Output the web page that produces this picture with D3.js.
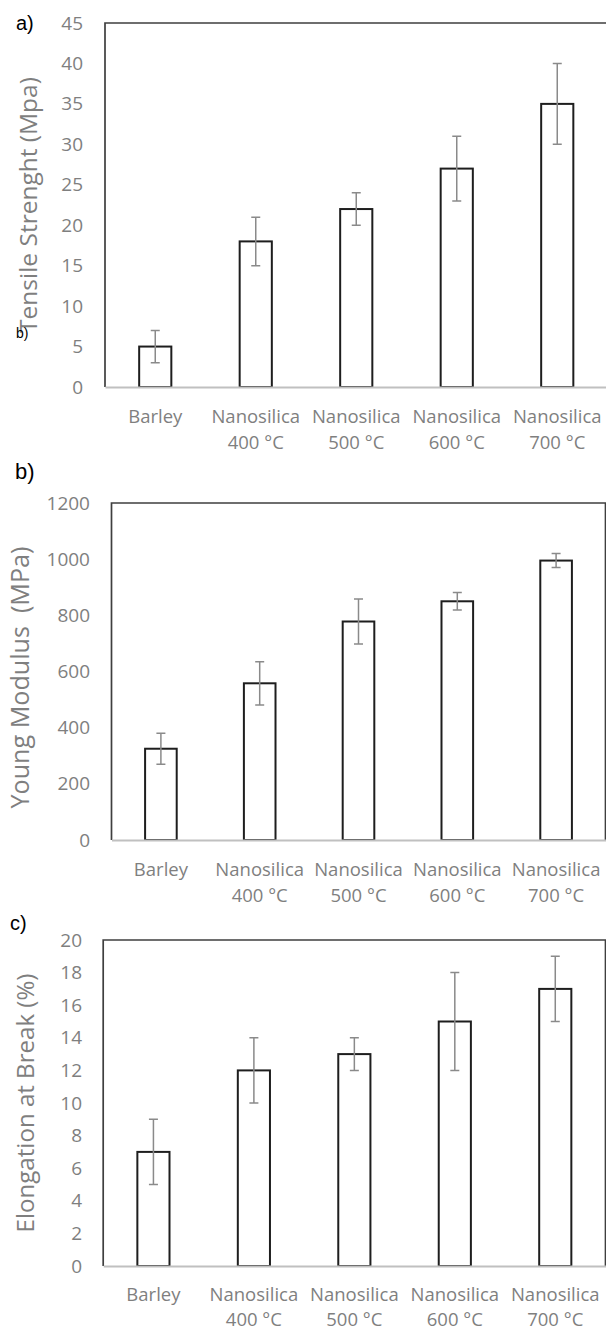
<!DOCTYPE html>
<html><head><meta charset="utf-8">
<script src="https://cdn.jsdelivr.net/npm/d3@7"></script>
<style>body{margin:0;background:#fff}svg{display:block}</style>
</head><body>
<script>
const categories = ["Barley", "Nanosilica\n400 °C", "Nanosilica\n500 °C", "Nanosilica\n600 °C", "Nanosilica\n700 °C"];

const tensileValues = [5, 18, 22, 27, 35];
const tensileErrors = [2, 3, 2, 4, 5];
const tensileTicks = [0, 5, 10, 15, 20, 25, 30, 35, 40, 45];

const youngValues = [325, 558, 778, 850, 995];
const youngErrors = [55, 77, 80, 31, 25];
const youngTicks = [0, 200, 400, 600, 800, 1000, 1200];

const elongationValues = [7, 12, 13, 15, 17];
const elongationErrors = [2, 2, 1, 3, 2];
const elongationTicks = [0, 2, 4, 6, 8, 10, 12, 14, 16, 18, 20];

const W = 606, H = 1331;
const GRAY = "#7f7f7f";
const FONT = "'Open Sans', 'Noto Sans', sans-serif";

const svg = d3.select("body").append("svg").attr("width", W).attr("height", H);

function panel(o) {
  const g = svg.append("g");
  const x = d3.scaleBand().domain(categories).range([o.left, o.right])
    .paddingInner(0.68).paddingOuter(0.34);
  const y = d3.scaleLinear().domain([0, o.max]).range([o.bottom, o.top]);

  // frame (top, left, right)
  g.append("path")
    .attr("d", `M${o.left},${o.bottom}V${o.top}H${o.right}V${o.bottom}`)
    .attr("fill", "none").attr("stroke", "#3f3f3f").attr("stroke-width", 1.7);

  // bars
  g.selectAll("rect.bar").data(o.values).enter().append("rect")
    .attr("class", "bar")
    .attr("x", (d, i) => x(categories[i]))
    .attr("width", x.bandwidth())
    .attr("y", d => y(d))
    .attr("height", d => y(0) - y(d))
    .attr("fill", "#fff").attr("stroke", "#1e1e1e").attr("stroke-width", 2);

  // error bars
  const eg = g.append("g").attr("stroke", "#8a8a8a").attr("stroke-width", 1.5).attr("fill", "none");
  o.values.forEach((v, i) => {
    const cx = x(categories[i]) + x.bandwidth() / 2;
    const hi = y(v + o.errors[i]), lo = y(v - o.errors[i]);
    eg.append("path").attr("d",
      `M${cx},${lo}V${hi}M${cx - 4.5},${hi}H${cx + 4.5}M${cx - 4.5},${lo}H${cx + 4.5}`);
  });

  // y axis tick labels
  const ya = g.append("g").attr("transform", `translate(${o.left},0)`)
    .call(d3.axisLeft(y).tickValues(o.ticks).tickFormat(d3.format("d"))
      .tickSize(0).tickPadding(o.left - o.tickRight));
  ya.select(".domain").remove();
  ya.attr("font-size", null).attr("font-family", null);
  ya.selectAll("text").attr("font-family", FONT).attr("font-size", 19).attr("fill", GRAY);

  // x axis
  const xa = g.append("g").attr("transform", `translate(0,${o.bottom})`)
    .call(d3.axisBottom(x).tickSize(0).tickSizeOuter(0).tickPadding(0));
  xa.attr("font-size", null).attr("font-family", null);
  xa.select(".domain").attr("stroke", "#c0c0c0").attr("stroke-width", 2);
  xa.selectAll("text").each(function (d) {
    const t = d3.select(this);
    t.text(null).attr("dy", null).attr("y", 0)
      .attr("font-family", FONT).attr("font-size", 18.5).attr("fill", GRAY);
    d.split("\n").forEach((line, k) => {
      t.append("tspan").attr("x", 0).attr("y", o.line1 + k * o.lineGap).text(line);
    });
  });

  // y title
  const cy = (o.top + o.bottom) / 2;
  const tt = g.append("text")
    .attr("transform", `translate(${o.titleX},${cy + o.titleShift}) rotate(-90)`)
    .attr("text-anchor", "middle").attr("font-family", FONT).attr("font-size", 20)
    .attr("fill", GRAY).style("white-space", "pre").text(o.title);
  const len = tt.node().getComputedTextLength();
  tt.attr("font-size", 20 * o.titleLen / len);

  // panel label
  g.append("text").attr("x", o.labelX).attr("y", o.labelY)
    .attr("font-family", "'Liberation Sans', Arial, sans-serif").attr("font-size", o.labelSize)
    .attr("fill", "#000").text(o.label);
}

panel({values: tensileValues, errors: tensileErrors, ticks: tensileTicks, max: 45,
  left: 105, right: 607.5, top: 23, bottom: 387, tickRight: 83, line1: 36, lineGap: 26,
  title: "Tensile Strenght (Mpa)", titleX: 37, titleLen: 256, titleShift: 0,
  label: "a)", labelX: 16, labelY: 30, labelSize: 20});

panel({values: youngValues, errors: youngErrors, ticks: youngTicks, max: 1200,
  left: 111.5, right: 605.5, top: 503, bottom: 840, tickRight: 90, line1: 36, lineGap: 26,
  title: "Young Modulus  (MPa)", titleX: 29, titleLen: 262, titleShift: 6,
  label: "b)", labelX: 15, labelY: 479, labelSize: 22});

panel({values: elongationValues, errors: elongationErrors, ticks: elongationTicks, max: 20,
  left: 103.2, right: 605.5, top: 940, bottom: 1266, tickRight: 82, line1: 35, lineGap: 24.5,
  title: "Elongation at Break (%)", titleX: 34, titleLen: 259, titleShift: 0,
  label: "c)", labelX: 10, labelY: 930, labelSize: 20});

// stray small label overlapping the first y title
svg.append("text").attr("x", 16).attr("y", 338)
  .attr("font-family", "'Liberation Sans', Arial, sans-serif").attr("font-size", 14)
  .attr("fill", "#000").text("b)");
</script>
</body></html>
